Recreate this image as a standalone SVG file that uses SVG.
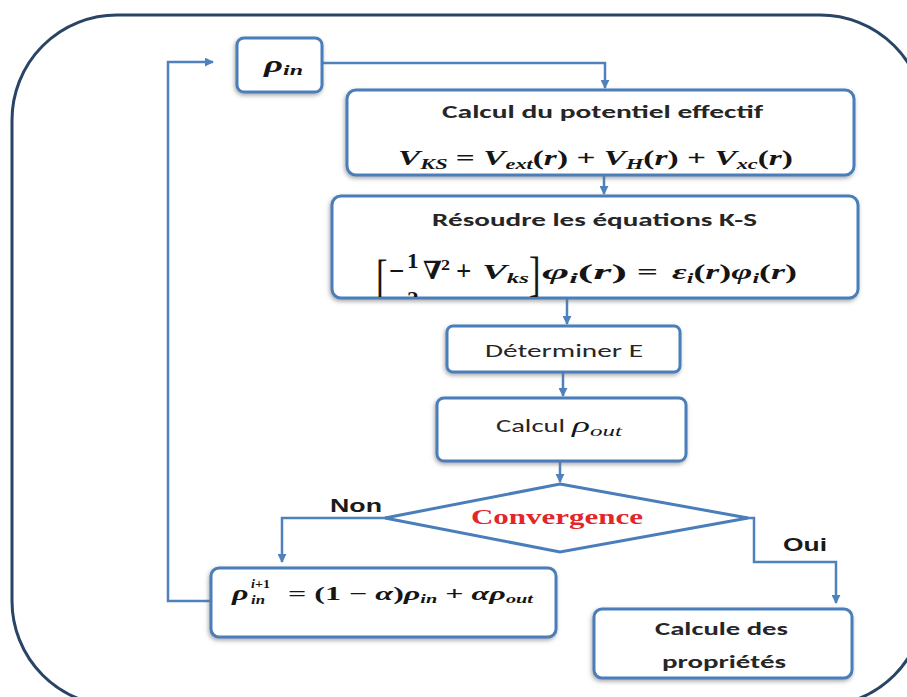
<svg xmlns="http://www.w3.org/2000/svg" width="907" height="697" viewBox="0 0 907 697">
<style>
.box{fill:#fff;stroke:#4a7ebb;stroke-width:3;filter:url(#sh)}
.con{fill:none;stroke:#4f81bd;stroke-width:2.5}
.lbl{font-family:Carlito,Lato,"Open Sans","Liberation Sans",sans-serif;font-size:18px;fill:#262626}
.b{font-weight:bold}
.m{font-family:"Liberation Serif","DejaVu Serif",serif;font-weight:bold;font-style:italic;fill:#151515}
.u{font-style:normal}
.n{font-weight:normal}
.ar{font-family:"Liberation Sans",Arial,sans-serif;font-weight:bold;font-size:18px;fill:#1a1a1a}
</style>
<defs>
<filter id="sh" x="-10%" y="-20%" width="120%" height="150%">
<feDropShadow dx="-1" dy="2" stdDeviation="2.2" flood-color="#707070" flood-opacity="0.6"/>
</filter>
<marker id="ar" viewBox="0 0 10 10" refX="9" refY="5" markerWidth="3.6" markerHeight="3.6" orient="auto">
<path d="M0,0 L10,5 L0,10 z" fill="#4f81bd"/>
</marker>
<clipPath id="ksclip"><rect x="330" y="196" width="530" height="101"/></clipPath>
</defs>
<rect width="907" height="697" fill="#fff"/>
<rect id="frame" x="12" y="15" width="913" height="691" rx="105" fill="none" stroke="#2a4466" stroke-width="3"/>

<g id="connectors">
<path class="con" d="M322,63 H605 V88" marker-end="url(#ar)"/>
<path class="con" d="M604,176 V194" marker-end="url(#ar)"/>
<path class="con" d="M567,299 V324" marker-end="url(#ar)"/>
<path class="con" d="M563,373 V396" marker-end="url(#ar)"/>
<path class="con" d="M560,461 V482" marker-end="url(#ar)"/>
<path class="con" d="M386,518 H282 V562" marker-end="url(#ar)"/>
<path class="con" d="M746,518 H754 V562 H836 V603" marker-end="url(#ar)"/>
<path class="con" d="M211,601 H168 V62 H213" marker-end="url(#ar)"/>
</g>

<g id="rho_in">
<rect class="box" x="237" y="38" width="85" height="54" rx="7"/>
<text class="m" x="264" y="72" font-size="23" textLength="39" lengthAdjust="spacingAndGlyphs">ρ<tspan font-size="15" dy="3">in</tspan></text>
</g>

<g id="potentiel">
<rect class="box" x="347" y="90" width="507" height="85" rx="9"/>
<text class="lbl b" x="442" y="118" textLength="321" lengthAdjust="spacingAndGlyphs">Calcul du potentiel effectif</text>
<text class="m" x="398" y="165" font-size="21" textLength="395" lengthAdjust="spacingAndGlyphs">V<tspan font-size="14" dy="4">KS</tspan><tspan class="u" dy="-4"> = </tspan>V<tspan font-size="14" dy="4">ext</tspan><tspan class="u" dy="-4">(</tspan>r<tspan class="u">) + </tspan>V<tspan font-size="14" dy="4">H</tspan><tspan class="u" dy="-4">(</tspan>r<tspan class="u">) + </tspan>V<tspan font-size="14" dy="4">xc</tspan><tspan class="u" dy="-4">(</tspan>r<tspan class="u">)</tspan></text>
</g>

<g id="ks">
<rect class="box" x="332" y="196" width="526" height="102" rx="9"/>
<text class="lbl b" x="432" y="226" textLength="325" lengthAdjust="spacingAndGlyphs">Résoudre les équations K-S</text>
<g clip-path="url(#ksclip)">
<text class="m u n" transform="translate(376,293) scale(0.75,1.05)" font-size="46">[</text>
<text class="m u" transform="translate(389,280)" font-size="27">−</text>
<text class="m u" transform="translate(407,268) scale(1.1,1)" font-size="21">1</text>
<text class="m u" transform="translate(407,306) scale(1.1,1)" font-size="21">2</text>
<text class="m u" transform="translate(423,279)" font-size="25">∇</text>
<text class="m u" transform="translate(441,270) scale(1.2,1)" font-size="15">2</text>
<text class="m u" transform="translate(456,280)" font-size="27">+</text>
<text class="m" x="482" y="279" font-size="21" textLength="47" lengthAdjust="spacingAndGlyphs">V<tspan font-size="14" dy="4">ks</tspan></text>
<text class="m u n" transform="translate(529,290) scale(0.75,1.05)" font-size="46">]</text>
<text class="m" x="542" y="279" font-size="21" textLength="85" lengthAdjust="spacingAndGlyphs">φ<tspan font-size="14" dy="4">i</tspan><tspan class="u" dy="-4">(</tspan>r<tspan class="u">)</tspan></text>
<text class="m u" x="637" y="279" font-size="22" textLength="21" lengthAdjust="spacingAndGlyphs">=</text>
<text class="m" x="672" y="279" font-size="21" textLength="125" lengthAdjust="spacingAndGlyphs">ε<tspan font-size="14" dy="4">i</tspan><tspan class="u" dy="-4">(</tspan>r<tspan class="u">)</tspan>φ<tspan font-size="14" dy="4">i</tspan><tspan class="u" dy="-4">(</tspan>r<tspan class="u">)</tspan></text>
</g>
</g>

<g id="determiner">
<rect class="box" x="447" y="326" width="233" height="46" rx="6"/>
<text class="lbl" x="485" y="357" textLength="158" lengthAdjust="spacingAndGlyphs">Déterminer E</text>
</g>

<g id="rho_out">
<rect class="box" x="437" y="398" width="249" height="63" rx="7"/>
<text class="lbl" x="496" y="432" textLength="69" lengthAdjust="spacingAndGlyphs">Calcul</text>
<text class="m n" x="572" y="432" font-size="21" textLength="50" lengthAdjust="spacingAndGlyphs">ρ<tspan font-size="14" dy="4">out</tspan></text>
</g>

<g id="convergence">
<polygon points="560,484 748,518 560,552 385,518" fill="#fff" stroke="#4a7ebb" stroke-width="3"/>
<text x="471" y="524" font-family="'Liberation Serif',serif" font-weight="bold" font-size="20" fill="#e3262a" textLength="172" lengthAdjust="spacingAndGlyphs">Convergence</text>
</g>

<text class="ar" x="330" y="512" textLength="52" lengthAdjust="spacingAndGlyphs">Non</text>
<text class="ar" x="783" y="551" textLength="44" lengthAdjust="spacingAndGlyphs">Oui</text>

<g id="mixing">
<rect class="box" x="211" y="568" width="345" height="69" rx="8"/>
<text class="m" transform="translate(232,600) scale(1.6,1)" font-size="20">ρ</text>
<text class="m" x="251" y="588" font-size="12" textLength="19" lengthAdjust="spacingAndGlyphs">i<tspan class="u">+1</tspan></text>
<text class="m" x="251" y="604" font-size="12" textLength="14" lengthAdjust="spacingAndGlyphs">in</text>
<text class="m" x="288" y="600" font-size="19" textLength="245" lengthAdjust="spacingAndGlyphs"><tspan class="u">= (1 − </tspan>α<tspan class="u">)</tspan>ρ<tspan font-size="12" dy="3">in</tspan><tspan class="u" dy="-3"> + </tspan>αρ<tspan font-size="12" dy="3">out</tspan></text>
</g>

<g id="proprietes">
<rect class="box" x="594" y="609" width="258" height="69" rx="8"/>
<text class="lbl b" x="655" y="635" textLength="133" lengthAdjust="spacingAndGlyphs">Calcule des</text>
<text class="lbl b" x="662" y="668" textLength="124" lengthAdjust="spacingAndGlyphs">propriétés</text>
</g>
</svg>
